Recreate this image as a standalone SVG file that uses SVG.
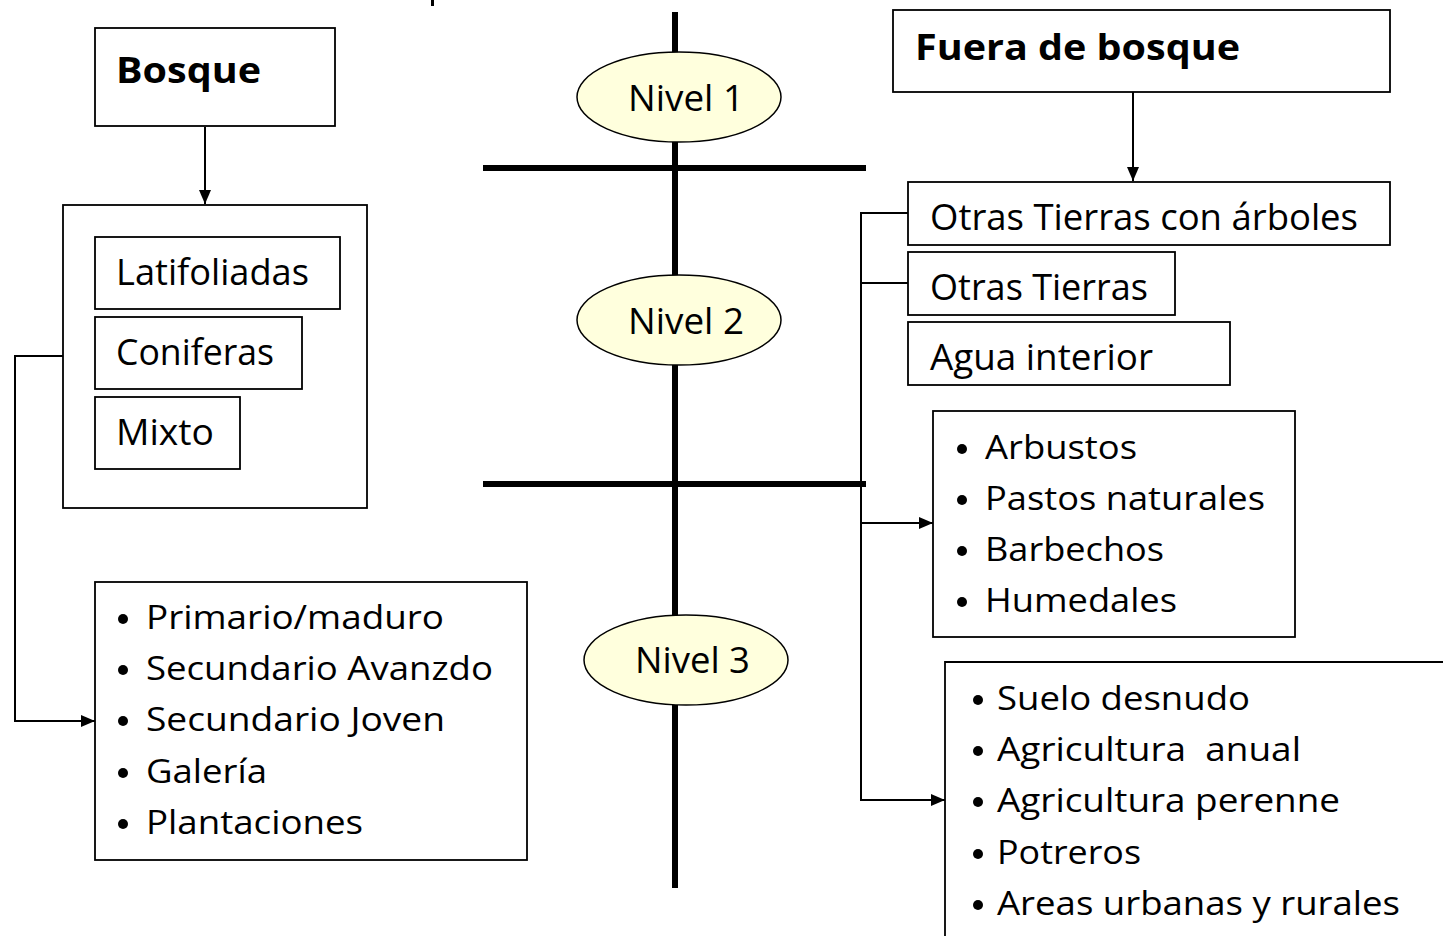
<svg xmlns="http://www.w3.org/2000/svg" width="1443" height="936" viewBox="0 0 1443 936">
<defs>
<style>
.box{fill:#fff;stroke:#000;stroke-width:1.8}
.t{font-family:"Open Sans","Liberation Sans",sans-serif;font-size:36px;fill:#000}
.b{font-family:"Open Sans","Liberation Sans",sans-serif;font-size:33px;fill:#000}
.h{font-family:"Open Sans","Liberation Sans",sans-serif;font-size:35px;font-weight:bold;fill:#000}
.lvl{fill:#FFFFDD;stroke:#000;stroke-width:1.5}
.axis{stroke:#000;stroke-width:6;fill:none}
.con{stroke:#000;stroke-width:2;fill:none}
.dot{fill:#000}
</style>
<marker id="ah" markerUnits="userSpaceOnUse" markerWidth="14" markerHeight="12" refX="14" refY="6" orient="auto">
<path d="M0,0 L14,6 L0,12 z" fill="#000"/>
</marker>
</defs>
<rect width="1443" height="936" fill="#fff"/>
<rect x="431" y="0" width="3" height="6" fill="#000"/>

<g id="axis">
<line class="axis" x1="675" y1="12" x2="675" y2="888"/>
<line class="axis" x1="483" y1="168" x2="866" y2="168"/>
<line class="axis" x1="483" y1="484" x2="866" y2="484"/>
</g>

<g id="connectors">
<line class="con" x1="205" y1="127" x2="205" y2="204" marker-end="url(#ah)"/>
<line class="con" x1="1133" y1="92" x2="1133" y2="181" marker-end="url(#ah)"/>
<polyline class="con" points="63,356 15,356 15,721 95,721" marker-end="url(#ah)"/>
<polyline class="con" points="908,213 861,213 861,800 945,800" marker-end="url(#ah)"/>
<line class="con" x1="861" y1="283" x2="908" y2="283"/>
<line class="con" x1="861" y1="523" x2="933" y2="523" marker-end="url(#ah)"/>
</g>

<g id="nivel1">
<ellipse class="lvl" cx="679" cy="97" rx="102" ry="45"/>
<text class="t" x="628" y="111" textLength="116" lengthAdjust="spacingAndGlyphs">Nivel 1</text>
</g>
<g id="nivel2">
<ellipse class="lvl" cx="679" cy="320" rx="102" ry="45"/>
<text class="t" x="628" y="334" textLength="116" lengthAdjust="spacingAndGlyphs">Nivel 2</text>
</g>
<g id="nivel3">
<ellipse class="lvl" cx="686" cy="660" rx="102" ry="45"/>
<text class="t" x="635" y="673" textLength="115" lengthAdjust="spacingAndGlyphs">Nivel 3</text>
</g>

<g id="bosque">
<rect class="box" x="95" y="28" width="240" height="98"/>
<text class="h" x="116" y="83" textLength="145" lengthAdjust="spacingAndGlyphs">Bosque</text>
</g>

<g id="tipos-bosque">
<rect class="box" x="63" y="205" width="304" height="303"/>
<rect class="box" x="95" y="237" width="245" height="72"/>
<text class="t" x="116" y="285" textLength="193" lengthAdjust="spacingAndGlyphs">Latifoliadas</text>
<rect class="box" x="95" y="317" width="207" height="72"/>
<text class="t" x="116" y="365" textLength="158" lengthAdjust="spacingAndGlyphs">Coniferas</text>
<rect class="box" x="95" y="397" width="145" height="72"/>
<text class="t" x="116" y="445" textLength="98" lengthAdjust="spacingAndGlyphs">Mixto</text>
</g>

<g id="bosque-nivel3">
<rect class="box" x="95" y="582" width="432" height="278"/>
<circle class="dot" cx="123" cy="619" r="5"/>
<text class="b" x="146" y="629" textLength="298" lengthAdjust="spacingAndGlyphs">Primario/maduro</text>
<circle class="dot" cx="123" cy="670" r="5"/>
<text class="b" x="146" y="680" textLength="347" lengthAdjust="spacingAndGlyphs">Secundario Avanzdo</text>
<circle class="dot" cx="123" cy="721" r="5"/>
<text class="b" x="146" y="731" textLength="299" lengthAdjust="spacingAndGlyphs">Secundario Joven</text>
<circle class="dot" cx="123" cy="773" r="5"/>
<text class="b" x="146" y="783" textLength="121" lengthAdjust="spacingAndGlyphs">Galería</text>
<circle class="dot" cx="123" cy="824" r="5"/>
<text class="b" x="146" y="834" textLength="217" lengthAdjust="spacingAndGlyphs">Plantaciones</text>
</g>

<g id="fuera-bosque">
<rect class="box" x="893" y="10" width="497" height="82"/>
<text class="h" x="915" y="60" textLength="325" lengthAdjust="spacingAndGlyphs">Fuera de bosque</text>
</g>

<g id="otras-tierras-arboles">
<rect class="box" x="908" y="182" width="482" height="63"/>
<text class="t" x="930" y="230" textLength="428" lengthAdjust="spacingAndGlyphs">Otras Tierras con árboles</text>
</g>
<g id="otras-tierras">
<rect class="box" x="908" y="252" width="267" height="63"/>
<text class="t" x="930" y="300" textLength="218" lengthAdjust="spacingAndGlyphs">Otras Tierras</text>
</g>
<g id="agua-interior">
<rect class="box" x="908" y="322" width="322" height="63"/>
<text class="t" x="930" y="370" textLength="223" lengthAdjust="spacingAndGlyphs">Agua interior</text>
</g>

<g id="arbustos">
<rect class="box" x="933" y="411" width="362" height="226"/>
<circle class="dot" cx="962" cy="449" r="5"/>
<text class="b" x="985" y="459" textLength="152" lengthAdjust="spacingAndGlyphs">Arbustos</text>
<circle class="dot" cx="962" cy="500" r="5"/>
<text class="b" x="985" y="510" textLength="280" lengthAdjust="spacingAndGlyphs">Pastos naturales</text>
<circle class="dot" cx="962" cy="551" r="5"/>
<text class="b" x="985" y="561" textLength="179" lengthAdjust="spacingAndGlyphs">Barbechos</text>
<circle class="dot" cx="962" cy="602" r="5"/>
<text class="b" x="985" y="612" textLength="192" lengthAdjust="spacingAndGlyphs">Humedales</text>
</g>

<g id="suelo">
<path class="box" d="M1443,662 L945,662 L945,936" fill="none"/>
<circle class="dot" cx="978" cy="700" r="5"/>
<text class="b" x="997" y="710" textLength="253" lengthAdjust="spacingAndGlyphs">Suelo desnudo</text>
<circle class="dot" cx="978" cy="751" r="5"/>
<text class="b" x="997" y="761" textLength="304" lengthAdjust="spacingAndGlyphs" xml:space="preserve">Agricultura  anual</text>
<circle class="dot" cx="978" cy="802" r="5"/>
<text class="b" x="997" y="812" textLength="343" lengthAdjust="spacingAndGlyphs">Agricultura perenne</text>
<circle class="dot" cx="978" cy="854" r="5"/>
<text class="b" x="997" y="864" textLength="144" lengthAdjust="spacingAndGlyphs">Potreros</text>
<circle class="dot" cx="978" cy="905" r="5"/>
<text class="b" x="997" y="915" textLength="403" lengthAdjust="spacingAndGlyphs">Areas urbanas y rurales</text>
</g>
</svg>
